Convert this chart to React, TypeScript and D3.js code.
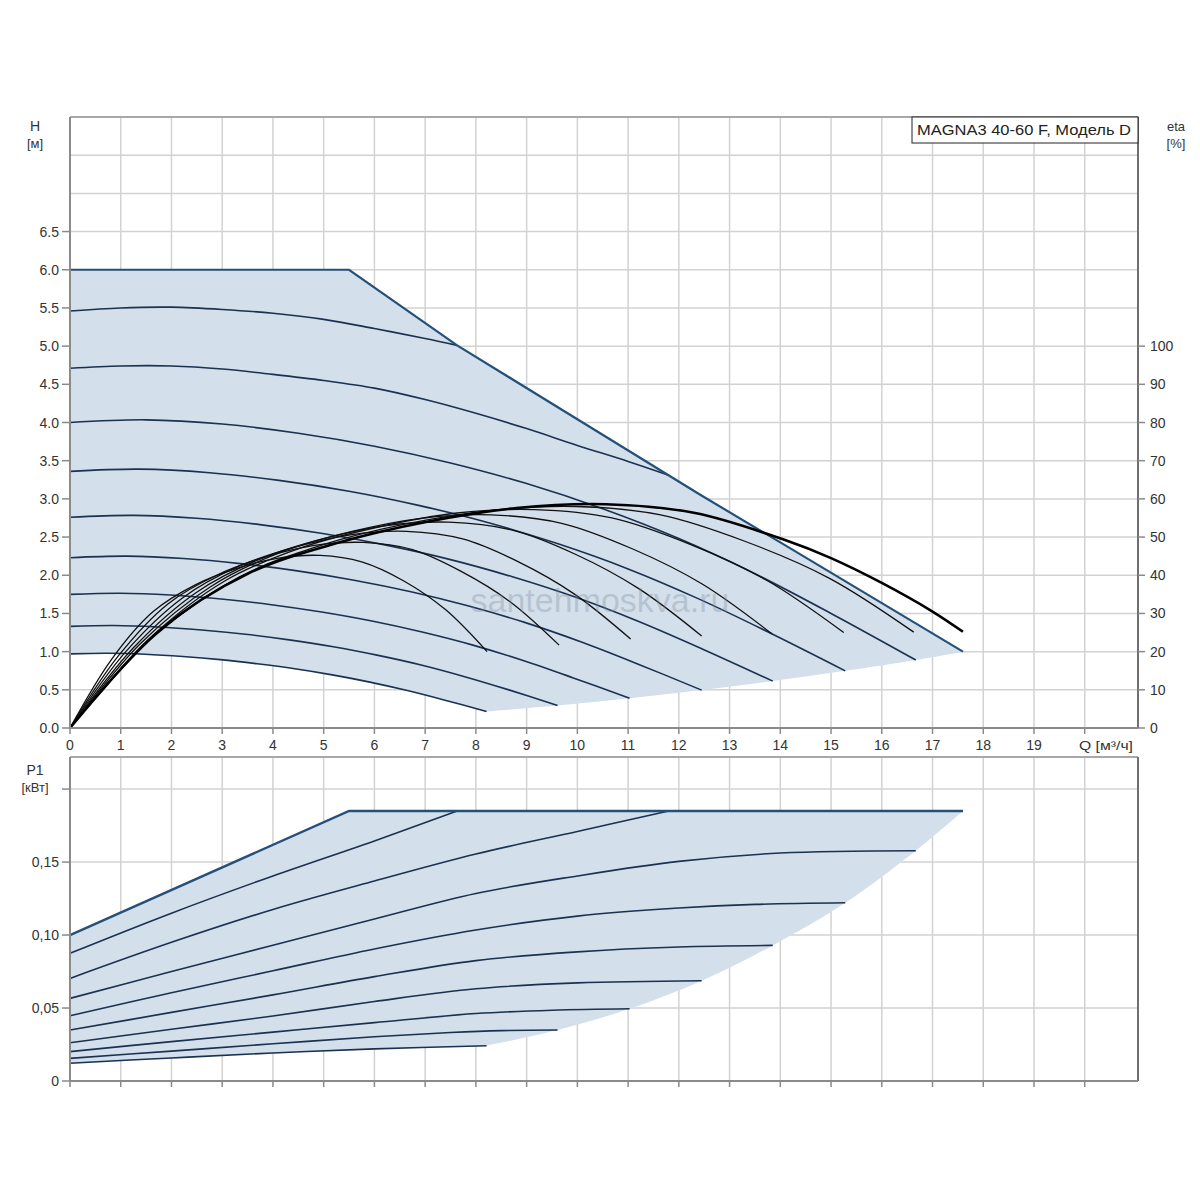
import React, { useEffect } from 'react';
import * as d3 from 'd3';

type Pt = [number, number];

// axis ticks
const qTicks = d3.range(0, 20);
const qGrid = d3.range(1, 21);
const headTicks = [0, 0.5, 1, 1.5, 2, 2.5, 3, 3.5, 4, 4.5, 5, 5.5, 6, 6.5];
const headGrid = [0.5, 1, 1.5, 2, 2.5, 3, 3.5, 4, 4.5, 5, 5.5, 6, 6.5, 7, 7.5];
const etaTicks = [0, 10, 20, 30, 40, 50, 60, 70, 80, 90, 100];
const powerTicks = [0, 0.05, 0.1, 0.15, 0.2];
const powerLabels = ['0', '0,05', '0,10', '0,15', ''];

// H(Q) curves [Q m3/h, H m], lowest speed first
const headS1: Pt[] = [[0, 0.97], [0.74, 0.978], [1.48, 0.965], [2.22, 0.936], [2.96, 0.895], [3.69, 0.841], [4.43, 0.776], [5.17, 0.696], [5.91, 0.601], [6.65, 0.49], [7.39, 0.364], [8.21, 0.216]];
const headS2: Pt[] = [[0, 1.33], [0.86, 1.342], [1.73, 1.323], [2.59, 1.283], [3.46, 1.227], [4.32, 1.154], [5.19, 1.064], [6.05, 0.954], [6.92, 0.825], [7.78, 0.672], [8.65, 0.499], [9.61, 0.296]];
const headS3: Pt[] = [[0, 1.75], [0.99, 1.765], [1.98, 1.741], [2.98, 1.689], [3.97, 1.614], [4.96, 1.518], [5.95, 1.4], [6.94, 1.256], [7.94, 1.085], [8.93, 0.884], [9.92, 0.656], [11.03, 0.389]];
const headS4: Pt[] = [[0, 2.23], [1.12, 2.25], [2.24, 2.219], [3.36, 2.152], [4.48, 2.057], [5.6, 1.935], [6.72, 1.784], [7.84, 1.6], [8.96, 1.383], [10.08, 1.126], [11.2, 0.836], [12.45, 0.496]];
const headS5: Pt[] = [[0, 2.76], [1.25, 2.784], [2.49, 2.746], [3.74, 2.663], [4.98, 2.546], [6.23, 2.394], [7.48, 2.208], [8.72, 1.98], [9.97, 1.711], [11.21, 1.394], [12.46, 1.035], [13.85, 0.614]];
const headS6: Pt[] = [[0, 3.36], [1.37, 3.389], [2.75, 3.343], [4.12, 3.242], [5.5, 3.1], [6.87, 2.915], [8.25, 2.688], [9.62, 2.411], [11.0, 2.083], [12.37, 1.697], [13.75, 1.26], [15.28, 0.748]];
const headS7: Pt[] = [[0, 4.0], [1.5, 4.035], [3, 3.98], [4.5, 3.86], [6, 3.69], [7.5, 3.47], [9, 3.2], [10.5, 2.87], [12, 2.48], [13.5, 2.02], [15, 1.5], [16.67, 0.89]];
const headS8: Pt[] = [[0, 4.71], [1, 4.74], [2, 4.74], [3, 4.7], [4, 4.63], [5, 4.55], [6, 4.45], [7, 4.3], [8, 4.12], [9, 3.92], [10, 3.7], [11, 3.49], [11.8, 3.31]];
const headS9: Pt[] = [[0, 5.46], [1, 5.5], [2, 5.51], [3, 5.48], [4, 5.43], [5, 5.35], [6, 5.23], [7, 5.1], [7.63, 5.01]];
const headMax: Pt[] = [[0, 6.0], [5.5, 6.0], [7.63, 5.01], [12.43, 3.05], [14, 2.43], [17.6, 1.0]];
const headMinEdge: Pt[] = [[8.21, 0.216], [9.61, 0.296], [11.03, 0.389], [12.45, 0.496], [13.85, 0.614], [15.28, 0.748], [16.67, 0.89], [17.6, 1.0]];

// efficiency curves [Q, eta %]
const etaS1: Pt[] = [[0, 0], [0.82, 18], [1.64, 30.5], [2.47, 37.5], [3.29, 41.8], [4.11, 44.5], [4.93, 45.2], [5.75, 43.5], [6.58, 38.5], [7.4, 31], [8.22, 20]];
const etaS2: Pt[] = [[0, 0], [0.96, 19], [1.93, 32.5], [2.89, 40], [3.86, 44.8], [4.82, 47.8], [5.78, 48.6], [6.75, 46.7], [7.71, 41], [8.68, 33], [9.64, 21.7]];
const etaS3: Pt[] = [[0, 0], [1.1, 20], [2.21, 34], [3.32, 42.3], [4.42, 47.3], [5.53, 50.6], [6.63, 51.5], [7.74, 49.5], [8.84, 43.5], [9.95, 35], [11.05, 23.3]];
const etaS4: Pt[] = [[0, 0], [1.25, 21], [2.49, 35.5], [3.74, 44.2], [4.98, 49.5], [6.23, 53], [7.47, 53.9], [8.72, 51.8], [9.96, 45.5], [11.21, 36.5], [12.45, 24.1]];
const etaS5: Pt[] = [[0, 0], [1.38, 22], [2.77, 37], [4.15, 46], [5.54, 51.4], [6.92, 54.9], [8.3, 55.8], [9.69, 53.6], [11.07, 47], [12.46, 37.7], [13.84, 24.6]];
const etaS6: Pt[] = [[0, 0], [1.53, 23], [3.05, 38.5], [4.58, 47.3], [6.1, 52.7], [7.63, 56.3], [9.15, 57.2], [10.68, 55], [12.2, 48.2], [13.73, 38.7], [15.25, 25]];
const etaS7: Pt[] = [[0, 0], [1.66, 24], [3.33, 39.5], [4.99, 48], [6.65, 53.5], [8.32, 57], [9.98, 58], [11.64, 55.8], [13.3, 48.9], [14.97, 39.2], [16.63, 25.1]];
const etaMax: Pt[] = [[0, 0], [1.76, 25.5], [3.52, 40.5], [5.28, 48.5], [7.04, 54], [8.8, 57.6], [10.56, 58.6], [12.32, 56.3], [14.08, 49.3], [15, 44.5], [16, 38], [17, 30.5], [17.6, 25.2]];

// power curves [Q, P1 kW]
const powerS1: Pt[] = [[0, 0.0122], [2, 0.0158], [4, 0.0192], [6, 0.022], [8.21, 0.0242]];
const powerS2: Pt[] = [[0, 0.0155], [2, 0.0205], [4, 0.0255], [6, 0.0303], [7.5, 0.0332], [8.5, 0.0345], [9.61, 0.0349]];
const powerS3: Pt[] = [[0, 0.0201], [2, 0.027], [4, 0.0335], [6, 0.04], [8, 0.0462], [9.5, 0.0485], [11.03, 0.0495]];
const powerS4: Pt[] = [[0, 0.0262], [2, 0.0355], [4, 0.0445], [6, 0.0545], [8, 0.0632], [10, 0.0672], [12.45, 0.0687]];
const powerS5: Pt[] = [[0, 0.0349], [2, 0.047], [4, 0.059], [6, 0.0715], [8, 0.0825], [10, 0.0885], [12, 0.0918], [13.85, 0.0929]];
const powerS6: Pt[] = [[0, 0.0447], [2, 0.0605], [4, 0.0755], [6, 0.0905], [8, 0.1035], [10, 0.113], [12, 0.1185], [13.5, 0.121], [15.28, 0.1221]];
const powerS7: Pt[] = [[0, 0.0566], [2, 0.075], [4, 0.093], [6, 0.111], [8, 0.1285], [10, 0.1405], [12, 0.1505], [14, 0.1562], [16.67, 0.1578]];
const powerS8: Pt[] = [[0, 0.0703], [2, 0.095], [4, 0.1175], [6, 0.137], [8, 0.1555], [10, 0.171], [11.8, 0.185]];
const powerS9: Pt[] = [[0, 0.0875], [2, 0.115], [4, 0.1405], [6, 0.1645], [7.63, 0.185]];
const powerMax: Pt[] = [[0, 0.1], [5.5, 0.185], [17.6, 0.185]];
const powerMinEdge: Pt[] = [[8.21, 0.0242], [9.61, 0.0349], [11.03, 0.0495], [12.45, 0.0687], [13.85, 0.0929], [15.28, 0.1221], [16.67, 0.1578], [17.6, 0.185]];

const FONT = 'Arial, "Liberation Sans", Helvetica, sans-serif';
const GRID = '#d2d2d2';
const AXIS = '#8a8a8a';
const FILL = '#d3dfeb';
const CURVE = '#1a3150';
const MAXC = '#25507a';
const TEXT = '#333';

const App: React.FC = () => {
  useEffect(() => {
    document.body.style.margin = '0';
  }, []);

  const x = d3.scaleLinear().domain([0, 21.05]).range([70, 1138]);
  const yH = d3.scaleLinear().domain([0, 8]).range([728, 117]);
  const yEta = d3.scaleLinear().domain([0, 160]).range([728, 117]);
  const yP = d3.scaleLinear().domain([0, 0.222]).range([1081, 757]);

  const smooth = d3.curveCatmullRom.alpha(0.5);
  const headLine = d3.line<Pt>().x(d => x(d[0])).y(d => yH(d[1])).curve(smooth);
  const headLinear = d3.line<Pt>().x(d => x(d[0])).y(d => yH(d[1]));
  const etaLine = d3.line<Pt>().x(d => x(d[0])).y(d => yEta(d[1])).curve(smooth);
  const powerLine = d3.line<Pt>().x(d => x(d[0])).y(d => yP(d[1])).curve(smooth);
  const powerLinear = d3.line<Pt>().x(d => x(d[0])).y(d => yP(d[1]));

  // glue several path strings into one closed outline
  const join = (...parts: (string | null)[]) =>
    parts.map((p, i) => (i === 0 ? p : (p || '').replace(/^M/, 'L'))).join('') + 'Z';

  const headFill = join(
    headLinear(headMax),
    headLine([...headMinEdge].reverse()),
    headLine([...headS1].reverse())
  );
  const powerFill = join(
    powerLinear(powerMax),
    powerLine([...powerMinEdge].reverse()),
    powerLine([...powerS1].reverse())
  );

  const headCurves = [headS1, headS2, headS3, headS4, headS5, headS6, headS7, headS8, headS9];
  const etaCurves = [etaS1, etaS2, etaS3, etaS4, etaS5, etaS6, etaS7];
  const powerCurves = [powerS1, powerS2, powerS3, powerS4, powerS5, powerS6, powerS7, powerS8, powerS9];

  const [x0, x1] = x.range();
  const hTop = yH(8), hBot = yH(0);
  const pTop = yP.range()[1], pBot = yP(0);

  return (
    <svg width={1200} height={1200} style={{ display: 'block', background: '#fff' }} fontFamily={FONT}>
      {/* ---------- head / efficiency chart ---------- */}
      <g>
        {qGrid.map(q => (
          <line key={'vg' + q} x1={x(q)} x2={x(q)} y1={hTop} y2={hBot} stroke={GRID} strokeWidth={1.5} />
        ))}
        {headGrid.map(h => (
          <line key={'hg' + h} x1={x0} x2={x1} y1={yH(h)} y2={yH(h)} stroke={GRID} strokeWidth={1.5} />
        ))}
        <path d={headFill} fill={FILL} />
        {headCurves.map((c, i) => (
          <path key={'h' + i} d={headLine(c) || ''} fill="none" stroke={CURVE} strokeWidth={1.6} />
        ))}
        <path d={headLinear(headMax) || ''} fill="none" stroke={MAXC} strokeWidth={2.2} />
        {etaCurves.map((c, i) => (
          <path key={'e' + i} d={etaLine(c) || ''} fill="none" stroke="#111" strokeWidth={1.3} />
        ))}
        <path d={etaLine(etaMax) || ''} fill="none" stroke="#000" strokeWidth={2.6} />

        <text x={600} y={612} textAnchor="middle" fontSize={34} fill="#7f8e9c" fillOpacity={0.35}>
          santehmoskva.ru
        </text>

        {/* frame */}
        <line x1={x0} x2={x1} y1={hTop} y2={hTop} stroke="#a8a8a8" strokeWidth={2} />
        <line x1={x0} x2={x0} y1={hTop} y2={hBot} stroke={AXIS} strokeWidth={2} />
        <line x1={x1} x2={x1} y1={hTop} y2={hBot} stroke="#707070" strokeWidth={2} />
        <line x1={x0} x2={x1} y1={hBot} y2={hBot} stroke={AXIS} strokeWidth={2} />

        {headTicks.map(h => (
          <g key={'ht' + h}>
            <line x1={62} x2={x0} y1={yH(h)} y2={yH(h)} stroke={AXIS} strokeWidth={1.5} />
            <text x={59} y={yH(h) + 5} textAnchor="end" fontSize={14} fill={TEXT}>{h.toFixed(1)}</text>
          </g>
        ))}
        {etaTicks.map(e => (
          <g key={'et' + e}>
            <line x1={x1} x2={x1 + 7} y1={yEta(e)} y2={yEta(e)} stroke={AXIS} strokeWidth={1.5} />
            <text x={x1 + 12} y={yEta(e) + 5} textAnchor="start" fontSize={14} fill={TEXT}>{e}</text>
          </g>
        ))}
        {qTicks.map(q => (
          <g key={'qt' + q}>
            <line x1={x(q)} x2={x(q)} y1={hBot} y2={hBot + 6} stroke={AXIS} strokeWidth={1.5} />
            <text x={x(q)} y={750} textAnchor="middle" fontSize={14} fill={TEXT}>{q}</text>
          </g>
        ))}
        <line x1={x(20)} x2={x(20)} y1={hBot} y2={hBot + 6} stroke={AXIS} strokeWidth={1.5} />
        <text x={1079} y={750} fontSize={13} fill={TEXT} textLength={54} lengthAdjust="spacingAndGlyphs">Q [м³/ч]</text>

        <text x={35} y={131} textAnchor="middle" fontSize={14} fill={TEXT}>H</text>
        <text x={35} y={148} textAnchor="middle" fontSize={13} fill={TEXT}>[м]</text>
        <text x={1176} y={131} textAnchor="middle" fontSize={13} fill={TEXT}>eta</text>
        <text x={1176} y={148} textAnchor="middle" fontSize={13} fill={TEXT}>[%]</text>

        <rect x={912} y={hTop} width={x1 - 912} height={26} fill="#fff" stroke="#222" strokeWidth={1} />
        <text x={917} y={hTop + 18} fontSize={14} fill="#222" textLength={214} lengthAdjust="spacingAndGlyphs">
          MAGNA3 40-60 F, Модель D
        </text>
      </g>

      {/* ---------- power chart ---------- */}
      <g>
        {qGrid.map(q => (
          <line key={'pvg' + q} x1={x(q)} x2={x(q)} y1={pTop} y2={pBot} stroke={GRID} strokeWidth={1.5} />
        ))}
        {powerTicks.slice(1).map(p => (
          <line key={'phg' + p} x1={x0} x2={x1} y1={yP(p)} y2={yP(p)} stroke={GRID} strokeWidth={1.5} />
        ))}
        <path d={powerFill} fill={FILL} />
        {powerCurves.map((c, i) => (
          <path key={'p' + i} d={powerLine(c) || ''} fill="none" stroke={CURVE} strokeWidth={1.6} />
        ))}
        <path d={powerLinear(powerMax) || ''} fill="none" stroke={MAXC} strokeWidth={2.4} />

        <line x1={x0} x2={x1} y1={pTop} y2={pTop} stroke="#a8a8a8" strokeWidth={2} />
        <line x1={x0} x2={x0} y1={pTop} y2={pBot} stroke={AXIS} strokeWidth={2} />
        <line x1={x1} x2={x1} y1={pTop} y2={pBot} stroke="#707070" strokeWidth={2} />
        <line x1={x0} x2={x1} y1={pBot} y2={pBot} stroke={AXIS} strokeWidth={2} />

        {powerTicks.map((p, i) => (
          <g key={'pt' + p}>
            <line x1={62} x2={x0} y1={yP(p)} y2={yP(p)} stroke={AXIS} strokeWidth={1.5} />
            <text x={59} y={yP(p) + 5} textAnchor="end" fontSize={14} fill={TEXT}>{powerLabels[i]}</text>
          </g>
        ))}
        {qGrid.concat([0]).map(q => (
          <line key={'pqt' + q} x1={x(q)} x2={x(q)} y1={pBot} y2={pBot + 6} stroke={AXIS} strokeWidth={1.5} />
        ))}

        <text x={35} y={775} textAnchor="middle" fontSize={14} fill={TEXT}>P1</text>
        <text x={35} y={792} textAnchor="middle" fontSize={13} fill={TEXT}>[кВт]</text>
      </g>
    </svg>
  );
};

export default App;
